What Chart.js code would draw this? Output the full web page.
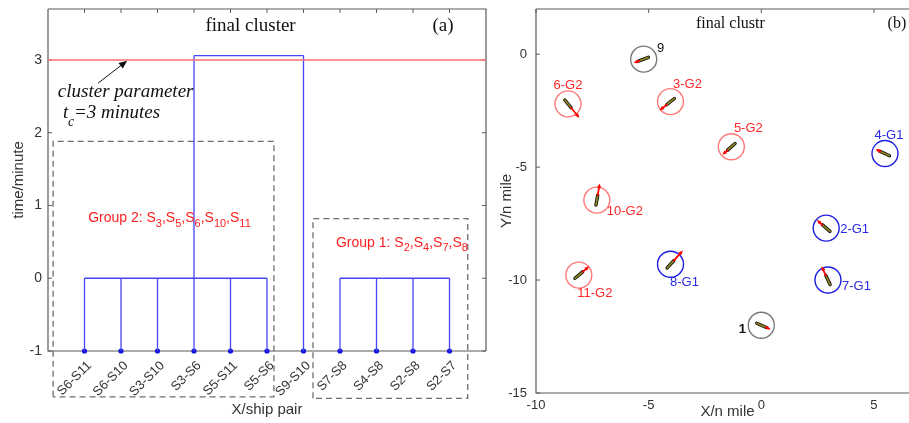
<!DOCTYPE html>
<html>
<head>
<meta charset="utf-8">
<script src="https://cdn.jsdelivr.net/npm/chart.js@4.4.0/dist/chart.umd.min.js"></script>
<style>
html, body { margin: 0; padding: 0; background: #fff; overflow: hidden; width: 909px; height: 423px; }
#panelA { position: absolute; left: 0; top: 0; }
#panelB { position: absolute; left: 490px; top: 0; }
</style>
</head>
<body>
<canvas id="panelA" width="490" height="423"></canvas>
<canvas id="panelB" width="440" height="423"></canvas>
<script>
// ---- Panel (a): dendrograma de pares de barcos ----
const pairLabels = ['S6-S11', 'S6-S10', 'S3-S10', 'S3-S6', 'S5-S11', 'S5-S6', 'S9-S10', 'S7-S8', 'S4-S8', 'S2-S8', 'S2-S7'];
const leafPos = [1, 2, 3, 4, 5, 6, 7, 8, 9, 10, 11];
const leafTop = [0, 0, 0, 3.06, 0, 0, 3.06, 0, 0, 0, 0];   // altura hasta donde sube cada hoja
const linkFrom = [1, 8, 4];
const linkTo = [6, 11, 7];
const linkHeight = [0, 0, 3.06];
const cutoff = 3;                                             // t_c = 3 minutos
const yTicksA = [-1, 0, 1, 2, 3];

// ---- Panel (b): posiciones de los barcos ----
const shipLabels = ['1', '2-G1', '3-G2', '4-G1', '5-G2', '6-G2', '7-G1', '8-G1', '9', '10-G2', '11-G2'];
const shipGroup = [0, 1, 2, 1, 2, 2, 1, 1, 0, 2, 2];         // 0 = sin grupo
const shipX = [0, 2.88, -4.03, 5.49, -1.33, -8.58, 2.96, -4.03, -5.22, -7.3, -8.1];
const shipY = [-12.0, -7.7, -2.1, -4.4, -4.1, -2.2, -10.0, -9.3, -0.22, -6.46, -9.78];
const shipCourse = [114, 311, 231, 295, 228, 141, 335, 42, 249, 10, 50];   // grados, rumbo
const shipVel = [0.24, 0.33, 0.4, 0.24, 0.31, 0.58, 0.45, 0.6, 0.26, 0.53, 0.38]; // largo del vector (n mile)
const xTicksB = [-10, -5, 0, 5];
const yTicksB = [-15, -10, -5, 0];

const SANS = "'Liberation Sans', Arial, sans-serif";
const SERIF = "'Liberation Serif', 'Times New Roman', serif";
const AXIS_GREY = '#5a5a5a';
const BLUE_LINE = 'rgb(70,70,245)';

// colores por grupo
const GROUP_CIRCLE = ['rgb(120,120,120)', 'rgb(30,30,225)', 'rgb(255,120,120)'];
const GROUP_TEXT = ['#111', 'rgb(40,40,230)', 'rgb(255,40,40)'];

// desplazamiento de etiquetas (px) respecto al centro del circulo
const LABEL_OFFSET = [
    [-19, 4, 'center'], [14, 1, 'left'], [17, -17, 'center'], [4, -18, 'center'],
    [17, -18, 'center'], [0, -18, 'center'], [14, 6, 'left'], [14, 18, 'center'],
    [17, -11, 'center'], [28, 11, 'center'], [16, 18, 'center']
];

Chart.defaults.font.family = SANS;
Chart.defaults.color = '#333';

/**
 * Dibuja el marco y las marcas hacia adentro (estilo MATLAB).
 */
function marcoPlugin(xTicks, yTicks, sides) {
    return {
        id: 'marco',
        beforeDatasetsDraw(chart) {
            const { ctx, chartArea: a, scales } = chart;
            ctx.save();
            ctx.strokeStyle = AXIS_GREY;
            ctx.lineWidth = 1.2;
            ctx.beginPath();
            ctx.moveTo(a.left, a.top); ctx.lineTo(a.left, a.bottom); ctx.lineTo(sides.right ? a.right : chart.width, a.bottom);
            ctx.moveTo(a.left, a.top); ctx.lineTo(sides.right ? a.right : chart.width, a.top);
            if (sides.right) ctx.lineTo(a.right, a.bottom);
            ctx.stroke();
            ctx.lineWidth = 1;
            xTicks.forEach(v => {
                const px = scales.x.getPixelForValue(v);
                ctx.beginPath();
                ctx.moveTo(px, a.top); ctx.lineTo(px, a.top + 4);
                if (sides.bottomTicks) { ctx.moveTo(px, a.bottom); ctx.lineTo(px, a.bottom - 4); }
                ctx.stroke();
            });
            yTicks.forEach(v => {
                const py = scales.y.getPixelForValue(v);
                ctx.beginPath();
                ctx.moveTo(a.left, py); ctx.lineTo(a.left + 4, py);
                if (sides.right) { ctx.moveTo(a.right, py); ctx.lineTo(a.right - 4, py); }
                ctx.stroke();
            });
            ctx.restore();
        }
    };
}

// texto con subindices: partes [texto, esSub]
function textoSub(ctx, parts, x, y, size, color) {
    ctx.fillStyle = color;
    ctx.textBaseline = 'middle';
    ctx.textAlign = 'left';
    parts.forEach(([t, sub]) => {
        ctx.font = (sub ? size - 3 : size) + 'px ' + SANS;
        ctx.fillText(t, x, sub ? y + 5 : y);
        x += ctx.measureText(t).width;
    });
}

function subPartes(prefijo, nums) {
    const parts = [[prefijo, false]];
    nums.forEach((n, i) => {
        parts.push(['S', false]);
        parts.push([String(n), true]);
        if (i < nums.length - 1) parts.push([',', false]);
    });
    return parts;
}

function flecha(ctx, x1, y1, x2, y2, head, color, width) {
    const ang = Math.atan2(y2 - y1, x2 - x1);
    ctx.strokeStyle = color;
    ctx.fillStyle = color;
    ctx.lineWidth = width;
    ctx.beginPath();
    ctx.moveTo(x1, y1);
    ctx.lineTo(x2 - Math.cos(ang) * head * 0.5, y2 - Math.sin(ang) * head * 0.5);
    ctx.stroke();
    ctx.beginPath();
    ctx.moveTo(x2, y2);
    ctx.lineTo(x2 - head * Math.cos(ang - 0.4), y2 - head * Math.sin(ang - 0.4));
    ctx.lineTo(x2 - head * Math.cos(ang + 0.4), y2 - head * Math.sin(ang + 0.4));
    ctx.closePath();
    ctx.fill();
}

// quita el relleno extra que Chart.js reserva para la etiqueta superior
function sinRellenoY(ancho) {
    return s => { s.width = ancho; s.paddingTop = 0; s.paddingBottom = 0; };
}

// ---------------- Panel (a) ----------------
const datasetsA = [];

// corte t_c
datasetsA.push({
    data: [{ x: 0, y: cutoff }, { x: 12, y: cutoff }],
    borderColor: 'rgb(255,110,110)', borderWidth: 1.5, pointRadius: 0
});

// tallos de las hojas
leafPos.forEach((p, i) => {
    datasetsA.push({
        data: [{ x: p, y: -1 }, { x: p, y: leafTop[i] }],
        borderColor: BLUE_LINE, borderWidth: 1.3, pointRadius: 0, clip: false
    });
});

// uniones horizontales
linkFrom.forEach((f, i) => {
    datasetsA.push({
        data: [{ x: f, y: linkHeight[i] }, { x: linkTo[i], y: linkHeight[i] }],
        borderColor: BLUE_LINE, borderWidth: 1.3, pointRadius: 0, clip: false
    });
});

// cajas punteadas de grupos (anotacion)
const groupBoxes = [
    { x0: 0.14, x1: 6.19, y0: -1.63, y1: 1.88 },
    { x0: 7.26, x1: 11.5, y0: -1.65, y1: 0.82 }
];
groupBoxes.forEach(b => {
    datasetsA.push({
        data: [{ x: b.x0, y: b.y0 }, { x: b.x0, y: b.y1 }, { x: b.x1, y: b.y1 }, { x: b.x1, y: b.y0 }, { x: b.x0, y: b.y0 }],
        borderColor: 'rgb(110,110,110)', borderWidth: 1.3, borderDash: [6, 4], pointRadius: 0, clip: false
    });
});

// puntos de las hojas
datasetsA.push({
    type: 'scatter',
    data: leafPos.map(p => ({ x: p, y: -1 })),
    pointRadius: 2.6, pointBackgroundColor: 'rgb(20,20,220)', pointBorderWidth: 0, clip: false
});

const textosA = {
    id: 'textosA',
    afterDraw(chart) {
        const { ctx, scales: { x, y } } = chart;
        ctx.save();
        ctx.fillStyle = '#111';
        ctx.textBaseline = 'middle';
        ctx.textAlign = 'center';
        ctx.font = '19px ' + SERIF;
        ctx.fillText('final cluster', x.getPixelForValue(5.55), y.getPixelForValue(3.47));
        ctx.fillText('(a)', x.getPixelForValue(10.82), y.getPixelForValue(3.47));

        ctx.textAlign = 'left';
        ctx.textBaseline = 'alphabetic';
        ctx.font = 'italic 19px ' + SERIF;
        ctx.fillText('cluster parameter', x.getPixelForValue(0.27), y.getPixelForValue(2.49));
        const tx = x.getPixelForValue(0.41), ty = y.getPixelForValue(2.2);
        ctx.fillText('t', tx, ty);
        ctx.font = 'italic 14px ' + SERIF;
        ctx.fillText('c', tx + 5, ty + 8);
        ctx.font = 'italic 19px ' + SERIF;
        ctx.fillText('=3 minutes', tx + 11, ty);

        flecha(ctx, x.getPixelForValue(1.37), y.getPixelForValue(2.68),
            x.getPixelForValue(2.17), y.getPixelForValue(2.99), 9, '#111', 1);

        textoSub(ctx, subPartes('Group 2: ', [3, 5, 6, 10, 11]), x.getPixelForValue(1.1), y.getPixelForValue(0.82), 14, 'rgb(255,30,30)');
        textoSub(ctx, subPartes('Group 1: ', [2, 4, 7, 8]), x.getPixelForValue(7.89), y.getPixelForValue(0.48), 14, 'rgb(255,30,30)');
        ctx.restore();
    }
};

new Chart(document.getElementById('panelA'), {
    type: 'line',
    data: { datasets: datasetsA },
    options: {
        responsive: false,
        animation: false,
        layout: { autoPadding: false, padding: { left: 10, top: 9, right: 4, bottom: 4 } },
        plugins: { legend: { display: false }, tooltip: { enabled: false } },
        scales: {
            x: {
                type: 'linear', min: 0, max: 12,
                afterBuildTicks: s => { s.ticks = leafPos.map(v => ({ value: v })); },
                afterFit: s => { s.height = 68; },
                grid: { display: false, drawTicks: false },
                border: { display: false },
                ticks: {
                    autoSkip: false, minRotation: 45, maxRotation: 45, padding: 7, labelOffset: 5,
                    font: { size: 13 },
                    callback: (v, i) => pairLabels[i]
                },
                title: { display: true, text: 'X/ship pair', font: { size: 15 }, padding: { top: 0, bottom: 0 }, color: '#333' }
            },
            y: {
                type: 'linear', min: -1, max: 3.7,
                afterBuildTicks: s => { s.ticks = yTicksA.map(v => ({ value: v })); },
                afterFit: sinRellenoY(38),
                grid: { display: false, drawTicks: false },
                border: { display: false },
                ticks: { padding: 6, font: { size: 14 } },
                title: { display: true, text: 'time/minute', font: { size: 15 }, padding: { top: 0, bottom: 0 }, color: '#333' }
            }
        }
    },
    plugins: [marcoPlugin(leafPos, yTicksA, { right: true, bottomTicks: false }), textosA]
});

// ---------------- Panel (b) ----------------
const datasetsB = [{
    type: 'scatter',
    data: shipX.map((v, i) => ({ x: v, y: shipY[i] })),
    pointRadius: 13,
    pointHoverRadius: 13,
    pointBackgroundColor: 'rgba(0,0,0,0)',
    pointBorderColor: shipGroup.map(g => GROUP_CIRCLE[g]),
    pointBorderWidth: 1.4
}];

const barcosB = {
    id: 'barcosB',
    afterDatasetsDraw(chart) {
        const { ctx, scales: { x, y } } = chart;
        const ppu = Math.abs(x.getPixelForValue(1) - x.getPixelForValue(0));
        ctx.save();
        ctx.lineCap = 'round';
        shipX.forEach((sx, i) => {
            const cx = x.getPixelForValue(sx), cy = y.getPixelForValue(shipY[i]);
            const rad = (90 - shipCourse[i]) * Math.PI / 180;
            const ux = Math.cos(rad), uy = -Math.sin(rad);
            const sX = cx - 5 * ux, sY = cy - 5 * uy;
            const bX = cx + 5 * ux, bY = cy + 5 * uy;
            const L = shipVel[i] * ppu;
            // casco
            ctx.strokeStyle = '#111';
            ctx.lineWidth = 3.4;
            ctx.beginPath(); ctx.moveTo(sX, sY); ctx.lineTo(bX, bY); ctx.stroke();
            ctx.strokeStyle = 'rgb(150,140,30)';
            ctx.lineWidth = 1.6;
            ctx.beginPath(); ctx.moveTo(sX, sY); ctx.lineTo(bX, bY); ctx.stroke();
            // vector de velocidad
            flecha(ctx, bX, bY, bX + L * ux, bY + L * uy, 5, 'rgb(255,0,0)', 1.8);

            // etiqueta
            const [dx, dy, al] = LABEL_OFFSET[i];
            ctx.fillStyle = GROUP_TEXT[shipGroup[i]];
            ctx.font = (i === 0 ? 'bold ' : '') + '13px ' + SANS;
            ctx.textAlign = al;
            ctx.textBaseline = 'middle';
            ctx.fillText(shipLabels[i], cx + dx, cy + dy);
        });

        ctx.fillStyle = '#111';
        ctx.textAlign = 'center';
        ctx.font = '16px ' + SERIF;
        ctx.fillText('final clustr', x.getPixelForValue(-1.37), y.getPixelForValue(1.33));
        ctx.fillText('(b)', x.getPixelForValue(6.02), y.getPixelForValue(1.33));
        ctx.restore();
    }
};

new Chart(document.getElementById('panelB'), {
    type: 'scatter',
    data: { datasets: datasetsB },
    options: {
        responsive: false,
        animation: false,
        layout: { autoPadding: false, padding: { left: 0, top: 9, right: 11, bottom: 2 } },
        plugins: { legend: { display: false }, tooltip: { enabled: false } },
        scales: {
            x: {
                type: 'linear', min: -10, max: 7,
                afterBuildTicks: s => { s.ticks = xTicksB.map(v => ({ value: v })); },
                afterFit: s => { s.height = 28; },
                grid: { display: false, drawTicks: false },
                border: { display: false },
                ticks: { padding: 5, font: { size: 13 } },
                title: { display: true, text: 'X/n mile', font: { size: 15 }, padding: { top: -4, bottom: 0 }, color: '#333' }
            },
            y: {
                type: 'linear', min: -15, max: 2,
                afterBuildTicks: s => { s.ticks = yTicksB.map(v => ({ value: v })); },
                afterFit: sinRellenoY(46),
                grid: { display: false, drawTicks: false },
                border: { display: false },
                ticks: { padding: 9, font: { size: 13 } },
                title: { display: true, text: 'Y/n mile', font: { size: 15 }, padding: { top: 8, bottom: 0 }, color: '#333' }
            }
        }
    },
    plugins: [marcoPlugin(xTicksB, yTicksB, { right: false, bottomTicks: false }), barcosB]
});
</script>
</body>
</html>
